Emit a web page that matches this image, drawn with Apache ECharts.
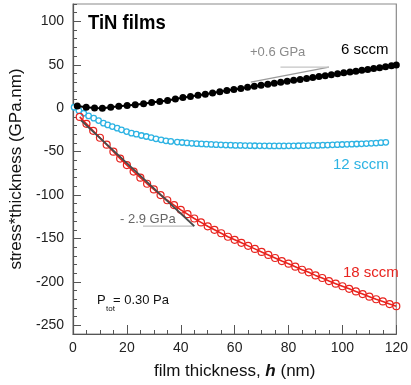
<!DOCTYPE html>
<html>
<head>
<meta charset="utf-8">
<script src="https://cdn.jsdelivr.net/npm/echarts@6/dist/echarts.min.js"></script>
<style>
  html, body { margin: 0; padding: 0; background: #fff; }
  #chart { width: 411px; height: 385px; }
</style>
</head>
<body>
<div id="chart"></div>
<script>
// Film thickness (nm) and stress*thickness (GPa.nm) for TiN films at three N2 flows
const h6 = [1.6, 4.9, 8.0, 10.9, 14.0, 17.0, 20.1, 23.1, 26.2, 29.2, 32.2, 35.1, 38.0, 40.8, 43.6, 46.4, 49.1, 51.8, 54.5, 57.1,
  59.7, 62.3, 64.8, 67.3, 69.8, 72.3, 74.7, 77.1, 79.5, 81.9, 84.3, 86.7, 89.0, 91.3, 93.6, 95.9, 98.2, 100.5, 102.8, 105.0,
  107.2, 109.4, 111.6, 113.8, 116.0, 118.2, 120.0];
const s6 = [2.6, 1.1, 0.3, 0.0, 1.2, 2.2, 3.0, 4.1, 5.2, 6.6, 7.6, 8.8, 10.5, 12.2, 13.5, 14.8, 16.2, 17.6, 19.0, 20.3,
  21.5, 22.8, 24.0, 25.2, 26.4, 27.6, 28.8, 29.9, 31.0, 32.1, 33.2, 34.3, 35.4, 36.4, 37.5, 38.6, 39.6, 40.7, 41.7, 42.7,
  43.7, 44.7, 45.7, 46.7, 47.8, 48.9, 49.8];

const h12 = [0.4, 2.2, 4.0, 5.8, 7.7, 9.5, 11.3, 12.9, 14.6, 16.4, 18.0, 19.9, 21.7, 23.5, 25.4, 27.2, 29.0, 30.8, 32.7, 34.5,
  36.3, 38.7, 40.5, 42.3, 44.1, 45.9, 47.7, 49.5, 51.3, 53.1, 54.9, 56.7, 58.5, 60.3, 62.1, 63.9, 65.7, 67.5, 69.3, 71.1,
  72.9, 74.7, 76.5, 78.3, 80.1, 81.9, 83.7, 85.5, 87.3, 89.1, 90.9, 92.7, 94.5, 96.3, 98.1, 99.9, 101.7, 103.5, 105.3, 107.1,
  108.9, 110.7, 112.5, 114.3, 116.1];
const s12 = [1.1, -2.8, -5.8, -8.9, -11.5, -14.2, -17.2, -19.2, -21.1, -23.0, -24.9, -26.9, -28.7, -29.9, -31.4, -32.6, -33.8, -35.2, -36.4, -37.5,
  -38.3, -39.0, -39.5, -40.0, -40.4, -40.8, -41.1, -41.4, -41.7, -42.0, -42.2, -42.4, -42.6, -42.8, -42.9, -43.0, -43.1, -43.2, -43.3, -43.3,
  -43.4, -43.4, -43.4, -43.4, -43.3, -43.3, -43.2, -43.1, -43.0, -42.9, -42.8, -42.6, -42.4, -42.2, -42.0, -41.8, -41.6, -41.4, -41.2, -41.0,
  -40.7, -40.4, -40.1, -39.7, -39.3];

const h18 = [2.5, 5.0, 7.5, 10.0, 12.5, 15.0, 17.5, 20.0, 22.5, 25.0, 27.5, 30.0, 32.5, 35.0, 37.5, 40.0, 42.5, 45.0, 47.5, 50.0,
  52.5, 55.0, 57.5, 60.0, 62.5, 65.0, 67.5, 70.0, 72.5, 75.0, 77.5, 80.0, 82.5, 85.0, 87.5, 90.0, 92.5, 95.0, 97.5, 100.0,
  102.5, 105.0, 107.5, 110.0, 112.5, 115.0, 117.5, 120.0];
const s18 = [-10, -18, -26, -34, -42, -50, -58, -65.5, -73, -80, -87, -93.5, -100, -106, -111.5, -117, -122, -127, -131.5, -136,
  -140, -144, -148, -151.5, -155, -158.5, -162, -165.5, -169, -172.5, -176, -179, -182.5, -186, -189, -192.5, -195.5, -199, -202, -205,
  -208, -211, -214, -217, -220, -222.5, -225.5, -228];

// Axis tick values
const xTicks = [0, 20, 40, 60, 80, 100, 120];
const yTicks = [-250, -200, -150, -100, -50, 0, 50, 100];

// Slope guides (GPa = GPa.nm per nm)
const tensileSlope = 0.6;
const tensileStart = [66, 30];
const tensileEndH = 95;
const tensileBaseStartH = 77;

const compSlope = -2.9;
const compStart = [3, -14];
const compEndH = 45;
const compBaseStartH = 26;

function pairs(xs, ys) { return xs.map((x, i) => [x, ys[i]]); }

const tensileEnd = [tensileEndH, tensileStart[1] + tensileSlope * (tensileEndH - tensileStart[0])];
const compEnd = [compEndH, compStart[1] + compSlope * (compEndH - compStart[0])];

const FONT = 'Liberation Sans, Arial, sans-serif';
const AXIS_COLOR = '#555';
const CYAN = '#2db3e3';
const RED = '#e8231e';

const chart = echarts.init(document.getElementById('chart'), null, { renderer: 'canvas' });

chart.setOption({
  animation: false,
  backgroundColor: '#fff',
  grid: { left: 72, top: 4, right: 10, bottom: 50, show: true, borderColor: '#8a8a8a', borderWidth: 1.2, backgroundColor: 'transparent' },
  xAxis: {
    type: 'value', min: 0, max: 120, interval: 20,
    name: '{n|film thickness, }{h|h}{n| (nm)}',
    nameLocation: 'middle', nameGap: 29,
    nameTextStyle: {
      rich: {
        n: { fontFamily: FONT, fontSize: 17, color: '#111' },
        h: { fontFamily: FONT, fontSize: 17, fontWeight: 'bold', fontStyle: 'italic', color: '#111' }
      }
    },
    axisLine: { show: true, onZero: false, lineStyle: { color: AXIS_COLOR, width: 1.2 } },
    axisTick: { show: true, inside: true, length: 9, lineStyle: { color: AXIS_COLOR, width: 1 } },
    minorTick: { show: true, splitNumber: 4, length: 4, lineStyle: { color: AXIS_COLOR, width: 1 } },
    axisLabel: { fontFamily: FONT, fontSize: 14, color: '#222', margin: 7,
      customValues: xTicks },
    splitLine: { show: false }
  },
  yAxis: [
    {
      type: 'value', min: -260, max: 120, interval: 10,
      name: 'stress*thickness (GPa.nm)',
      nameLocation: 'middle', nameGap: 48, nameRotate: 90,
      nameTextStyle: { fontFamily: FONT, fontSize: 17, color: '#111' },
      axisLine: { show: true, onZero: false, lineStyle: { color: AXIS_COLOR, width: 1.2 } },
      axisTick: { show: true, inside: true, length: 4, lineStyle: { color: AXIS_COLOR, width: 1 } },
      axisLabel: { fontFamily: FONT, fontSize: 14, color: '#222', margin: 9, customValues: yTicks },
      splitLine: { show: false }
    },
    {
      type: 'value', min: -260, max: 120, position: 'left',
      axisLine: { show: false },
      axisTick: { show: true, inside: true, length: 8, customValues: yTicks, lineStyle: { color: AXIS_COLOR, width: 1 } },
      axisLabel: { show: false },
      splitLine: { show: false }
    }
  ],
  series: [
    {
      name: '6 sccm', type: 'line', data: pairs(h6, s6),
      symbol: 'circle', symbolSize: 7,
      itemStyle: { color: '#000' },
      lineStyle: { color: '#000', width: 2 },
      z: 3
    },
    {
      name: '12 sccm', type: 'line', data: pairs(h12, s12),
      symbol: 'circle', symbolSize: 5.5,
      itemStyle: { color: '#fff', borderColor: CYAN, borderWidth: 1.3 },
      lineStyle: { width: 0, opacity: 0 },
      z: 2
    },
    {
      name: '18 sccm', type: 'line', data: pairs(h18, s18),
      symbol: 'circle', symbolSize: 7,
      itemStyle: { color: 'rgba(255,255,255,0)', borderColor: RED, borderWidth: 1.2 },
      lineStyle: { color: RED, width: 1.6 },
      z: 2
    },
    {
      name: 'tensile slope', type: 'line', data: [tensileStart, tensileEnd],
      symbol: 'none', lineStyle: { color: '#9a9a9a', width: 1.3 }, z: 4
    },
    {
      name: 'tensile base', type: 'line', data: [[tensileBaseStartH, tensileEnd[1]], tensileEnd],
      symbol: 'none', lineStyle: { color: '#c4c4c4', width: 1.2 }, z: 4
    },
    {
      name: 'compressive slope', type: 'line', data: [compStart, compEnd],
      symbol: 'none', lineStyle: { color: '#4a4a4a', width: 2 }, z: 5
    },
    {
      name: 'compressive base', type: 'line', data: [[compBaseStartH, compEnd[1]], compEnd],
      symbol: 'none', lineStyle: { color: '#bdbdbd', width: 1.2 }, z: 4
    }
  ],
  graphic: [
    { type: 'text', left: 88, top: 13, style: { text: 'TiN films', font: 'bold 21px ' + FONT, fill: '#000' }, scaleX: 0.88 },
    { type: 'text', left: 250, top: 46, style: { text: '+0.6 GPa', font: '13px ' + FONT, fill: '#8a8a8a' } },
    { type: 'text', left: 341, top: 42, style: { text: '6 sccm', font: '15px ' + FONT, fill: '#000' } },
    { type: 'text', left: 333, top: 157, style: { text: '12 sccm', font: '15px ' + FONT, fill: CYAN } },
    { type: 'text', left: 343, top: 265, style: { text: '18 sccm', font: '15px ' + FONT, fill: RED } },
    { type: 'text', left: 120, top: 213, style: { text: '- 2.9 GPa', font: '13px ' + FONT, fill: '#666' } },
    { type: 'text', left: 97, top: 294, style: { text: 'P', font: '13px ' + FONT, fill: '#111' } },
    { type: 'text', left: 106, top: 305, style: { text: 'tot', font: '8px ' + FONT, fill: '#111' } },
    { type: 'text', left: 113, top: 294, style: { text: '= 0.30 Pa', font: '13px ' + FONT, fill: '#111' } }
  ]
});
</script>
</body>
</html>
